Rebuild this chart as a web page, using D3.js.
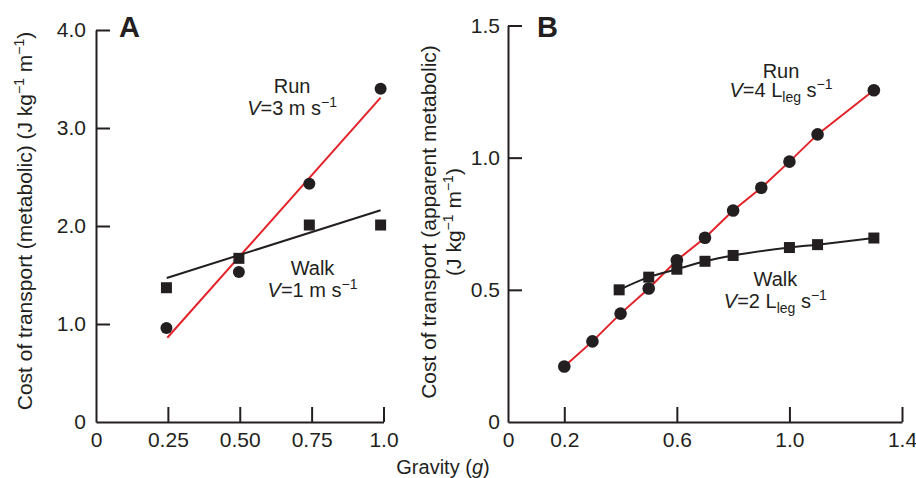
<!DOCTYPE html>
<html>
<head>
<meta charset="utf-8">
<script src="https://cdn.jsdelivr.net/npm/d3@7"></script>
<style>
  body { margin: 0; background: #fff; }
  svg text { font-family: "Liberation Sans", Arial, Helvetica, sans-serif; fill: #231f20; }
</style>
</head>
<body>
<svg id="chart" width="916" height="478"></svg>
<script>
// ---- panel A data (metabolic, V fixed in m/s)
const gravityA = [0.245, 0.497, 0.742, 0.99];
const runA = [0.96, 1.53, 2.43, 3.40];
const walkA = [1.37, 1.67, 2.01, 2.01];
const runFitA = [[0.248, 0.86], [0.99, 3.31]];
const walkFitA = [[0.246, 1.47], [0.99, 2.16]];
const xTicksA = [0, 0.25, 0.5, 0.75, 1.0];
const xLabelsA = ["0", "0.25", "0.50", "0.75", "1.0"];
const yTicksA = [0, 1, 2, 3, 4];
const yLabelsA = ["0", "1.0", "2.0", "3.0", "4.0"];

// ---- panel B data (apparent metabolic, V in leg lengths/s)
const gravityRunB = [0.2, 0.3, 0.4, 0.5, 0.6, 0.7, 0.8, 0.9, 1.0, 1.1, 1.3];
const runB = [0.21, 0.305, 0.41, 0.505, 0.612, 0.697, 0.80, 0.886, 0.985, 1.088, 1.255];
const gravityWalkB = [0.395, 0.5, 0.6, 0.7, 0.8, 1.0, 1.1, 1.3];
const walkB = [0.50, 0.548, 0.578, 0.608, 0.630, 0.660, 0.671, 0.696];
const xTicksB = [0, 0.2, 0.6, 1.0, 1.4];
const xLabelsB = ["0", "0.2", "0.6", "1.0", "1.4"];
const yTicksB = [0, 0.5, 1.0, 1.5];
const yLabelsB = ["0", "0.5", "1.0", "1.5"];

const red = "#e2232a", ink = "#231f20";
const svg = d3.select("#chart");

function panel(o) {
  const x = d3.scaleLinear().domain(o.xDomain).range(o.xRange);
  const y = d3.scaleLinear().domain(o.yDomain).range([422, o.yTop]);

  const gx = svg.append("g").attr("transform", "translate(0,422)")
    .call(d3.axisBottom(x).tickValues(o.xTicks).tickSizeInner(-15).tickSizeOuter(0)
      .tickPadding(10).tickFormat((d, i) => o.xLabels[i]));
  const gy = svg.append("g").attr("transform", "translate(" + o.xRange[0] + ",0)")
    .call(d3.axisLeft(y).tickValues(o.yTicks).tickSizeInner(-14).tickSizeOuter(0)
      .tickPadding(o.yPad).tickFormat((d, i) => o.yLabels[i]));
  [gx, gy].forEach(g => {
    g.selectAll("path, line").attr("stroke", ink).attr("stroke-width", 2);
    g.selectAll("text").attr("font-size", 21).attr("font-family", null).attr("fill", ink);
  });
  gx.selectAll(".tick").filter(d => d === 0).select("line").remove();
  gy.selectAll(".tick").filter(d => d === 0).select("line").remove();
  return {x, y};
}

function superText(sel, parts) {
  parts.forEach(p => {
    const t = sel.append("tspan").text(p.t);
    if (p.i) t.attr("font-style", "italic");
    if (p.sup) t.attr("font-size", 14).attr("dy", -8);
    if (p.sub) t.attr("font-size", 14).attr("dy", 5);
    if (p.back) t.attr("dy", p.back);
  });
}

// ---------- Panel A
const A = panel({xDomain: [0, 1], xRange: [96, 383.5], yDomain: [0, 4], yTop: 30,
  xTicks: xTicksA, xLabels: xLabelsA, yTicks: yTicksA, yLabels: yLabelsA, yPad: 10});

const line = (sx, sy) => d3.line().x(d => sx(d[0])).y(d => sy(d[1]));
svg.append("path").datum(runFitA).attr("d", line(A.x, A.y))
  .attr("fill", "none").attr("stroke", red).attr("stroke-width", 2);
svg.append("path").datum(walkFitA).attr("d", line(A.x, A.y))
  .attr("fill", "none").attr("stroke", ink).attr("stroke-width", 2);
svg.append("g").selectAll("circle").data(gravityA).join("circle")
  .attr("cx", d => A.x(d)).attr("cy", (d, i) => A.y(runA[i])).attr("r", 6).attr("fill", ink);
svg.append("g").selectAll("rect").data(gravityA).join("rect")
  .attr("x", d => A.x(d) - 5.5).attr("y", (d, i) => A.y(walkA[i]) - 5.5)
  .attr("width", 11).attr("height", 11).attr("fill", ink);

// ---------- Panel B
const B = panel({xDomain: [0, 1.4], xRange: [508, 902], yDomain: [0, 1.5], yTop: 25.5,
  xTicks: xTicksB, xLabels: xLabelsB, yTicks: yTicksB, yLabels: yLabelsB, yPad: 8});

const runPtsB = gravityRunB.map((g, i) => [g, runB[i]]);
const walkPtsB = gravityWalkB.map((g, i) => [g, walkB[i]]);
svg.append("path").datum(runPtsB).attr("d", line(B.x, B.y))
  .attr("fill", "none").attr("stroke", red).attr("stroke-width", 2);
svg.append("path").datum(walkPtsB).attr("d", line(B.x, B.y).curve(d3.curveMonotoneX))
  .attr("fill", "none").attr("stroke", ink).attr("stroke-width", 2);
svg.append("g").selectAll("circle").data(runPtsB).join("circle")
  .attr("cx", d => B.x(d[0])).attr("cy", d => B.y(d[1])).attr("r", 6.3).attr("fill", ink);
svg.append("g").selectAll("rect").data(walkPtsB).join("rect")
  .attr("x", d => B.x(d[0]) - 5.5).attr("y", d => B.y(d[1]) - 5.5)
  .attr("width", 11).attr("height", 11).attr("fill", ink);

// ---------- Text
svg.append("text").attr("x", 119).attr("y", 37).attr("font-size", 29).attr("font-weight", "bold").text("A");
svg.append("text").attr("x", 537).attr("y", 37).attr("font-size", 29).attr("font-weight", "bold").text("B");

const label = (x, y) => svg.append("text").attr("x", x).attr("y", y)
  .attr("font-size", 20).attr("text-anchor", "middle");

label(A.x(0.682), A.y(3.36)).text("Run");
superText(label(A.x(0.682), A.y(3.13)), [{t: "V", i: true}, {t: "=3 m s"}, {t: "\u22121", sup: true}]);
label(A.x(0.753), A.y(1.50)).text("Walk");
superText(label(A.x(0.753), A.y(1.28)), [{t: "V", i: true}, {t: "=1 m s"}, {t: "\u22121", sup: true}]);

label(B.x(0.97), B.y(1.30)).text("Run");
superText(label(B.x(0.97), B.y(1.228)), [{t: "V", i: true}, {t: "=4 L"}, {t: "leg", sub: true}, {t: " s", back: -5}, {t: "\u22121", sup: true}]);
label(B.x(0.95), B.y(0.513)).text("Walk");
superText(label(B.x(0.95), B.y(0.43)), [{t: "V", i: true}, {t: "=2 L"}, {t: "leg", sub: true}, {t: " s", back: -5}, {t: "\u22121", sup: true}]);

// axis titles
superText(svg.append("text").attr("transform", "translate(32,221) rotate(-90)")
  .attr("font-size", 21).attr("text-anchor", "middle"),
  [{t: "Cost of transport (metabolic) (J kg"}, {t: "\u22121", sup: true}, {t: " m", back: 8}, {t: "\u22121", sup: true}, {t: ")", back: 8}]);

svg.append("text").attr("transform", "translate(436,222) rotate(-90)")
  .attr("font-size", 21).attr("text-anchor", "middle").text("Cost of transport (apparent metabolic)");
superText(svg.append("text").attr("transform", "translate(461,222) rotate(-90)")
  .attr("font-size", 21).attr("text-anchor", "middle"),
  [{t: "(J kg"}, {t: "\u22121", sup: true}, {t: " m", back: 8}, {t: "\u22121", sup: true}, {t: ")", back: 8}]);

superText(svg.append("text").attr("x", 443).attr("y", 474).attr("font-size", 20).attr("text-anchor", "middle"),
  [{t: "Gravity ("}, {t: "g", i: true}, {t: ")"}]);
</script>
</body>
</html>
